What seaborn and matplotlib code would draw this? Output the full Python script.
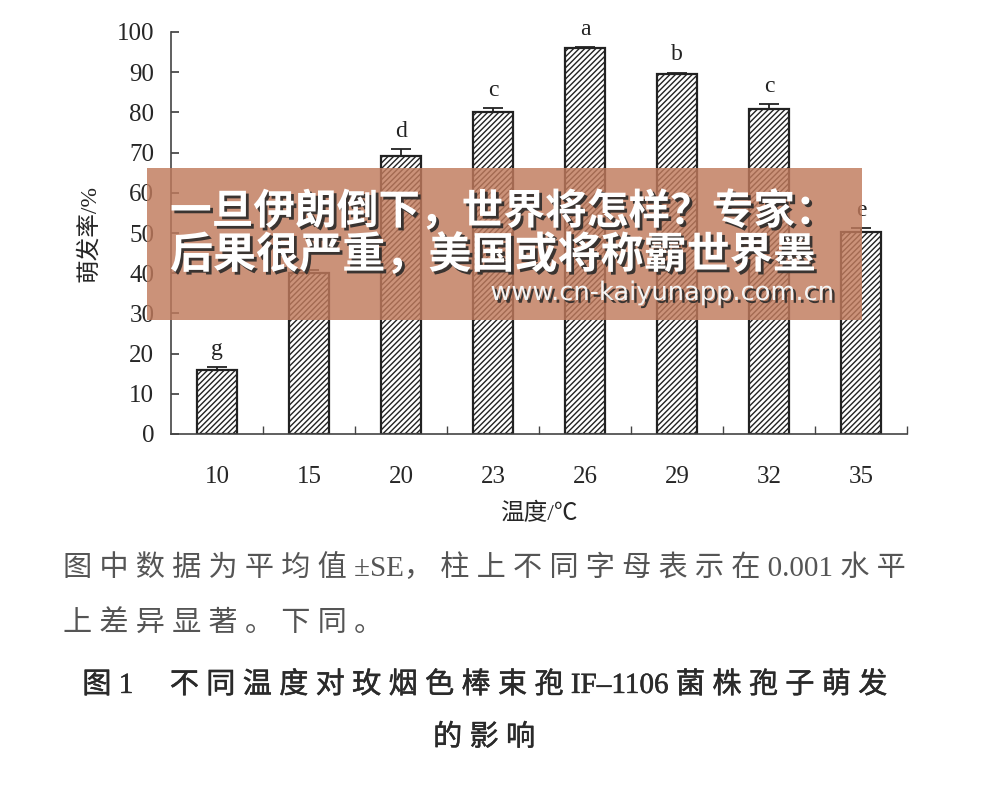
import numpy as np
import pandas as pd
import matplotlib
matplotlib.use("Agg")
import matplotlib.pyplot as plt
import matplotlib.patheffects as pe
from matplotlib.patches import Rectangle
import seaborn as sns

# dane
temps = ['10', '15', '20', '23', '26', '29', '32', '35']
rates = [16.0, 40.0, 69.2, 80.1, 96.0, 89.5, 80.8, 50.3]
se = [0.7, 0.8, 1.7, 1.0, 0.3, 0.4, 1.2, 1.0]
letters = ['g', '', 'd', 'c', 'a', 'b', 'c', 'e']  # litera dla 15 zakryta banerem

df = pd.DataFrame({'temp': temps, 'rate': rates})

sns.set_theme(style='ticks')
plt.rcParams['font.family'] = ['Liberation Serif', 'Noto Sans CJK SC', 'DejaVu Sans']
plt.rcParams['hatch.linewidth'] = 1.0
plt.rcParams['hatch.color'] = '#333333'

fig = plt.figure(figsize=(10.07, 8), dpi=100)
ax = fig.add_axes([0.1698, 0.4575, 0.7309, 0.5025])

sns.barplot(data=df, x='temp', y='rate', color='white', edgecolor='#222222',
            linewidth=1.6, width=0.44, ax=ax, errorbar=None, zorder=2)
for p in ax.patches:
    p.set_hatch('//////')
    p.set_facecolor('white')

xpos = np.arange(len(temps))
ax.errorbar(xpos, rates, yerr=[np.zeros(len(se)), se], fmt='none',
            ecolor='#222222', elinewidth=1.3, capsize=7, capthick=1.3, zorder=3)
for x, r, s, l in zip(xpos, rates, se, letters):
    if l:
        ax.text(x, r + s + 1.8, l, ha='center', va='bottom', fontsize=17, color='#222222')

ax.set_ylim(0, 100)
ax.set_xlim(-0.5, 7.5)
ax.set_yticks(range(0, 101, 10))
ax.set_xticks(xpos)
ax.set_xticks(np.arange(0.5, 8, 1), minor=True)
ax.tick_params(axis='x', which='major', length=0, pad=23, labelsize=18)
ax.tick_params(axis='x', which='minor', length=6, direction='in', color='#444444')
ax.tick_params(axis='y', length=6, direction='in', labelsize=18, pad=12, color='#444444')
sns.despine(ax=ax)
for s in ['left', 'bottom']:
    ax.spines[s].set_color('#444444')
    ax.spines[s].set_linewidth(1.2)
ax.set_xlabel('温度/℃', fontsize=17, labelpad=11)
ax.set_ylabel('萌发率/%', fontsize=17, labelpad=12)

# podpis pod wykresem
fig.text(63 / 1007, 1 - 568 / 800, '图 中 数 据 为 平 均 值 ±SE， 柱 上 不 同 字 母 表 示 在 0.001 水 平',
         fontsize=21, color='#555555', va='center', ha='left')
fig.text(63 / 1007, 1 - 624 / 800, '上 差 异 显 著 。 下 同 。',
         fontsize=21, color='#555555', va='center', ha='left')
medium = [pe.withStroke(linewidth=0.35, foreground='#2a2a2a')]
fig.text(484 / 1007, 1 - 685 / 800,
         '图 1     不 同 温 度 对 玫 烟 色 棒 束 孢 IF–1106 菌 株 孢 子 萌 发',
         fontsize=21, color='#2a2a2a', va='center', ha='center', path_effects=medium)
fig.text(484 / 1007, 1 - 738 / 800, '的 影 响',
         fontsize=21, color='#2a2a2a', va='center', ha='center', path_effects=medium)

# nakladka (baner)
fig.patches.append(Rectangle((147 / 1007, 1 - 320 / 800), 715 / 1007, 152 / 800,
                             transform=fig.transFigure, facecolor='#c07a5c',
                             alpha=0.82, edgecolor='none', zorder=10))
shadow = [pe.SimplePatchShadow(offset=(2, -2), shadow_rgbFace='#2a2a2a', alpha=0.9), pe.Normal()]
fig.text(170 / 1007, 1 - 212 / 800, '一旦伊朗倒下，世界将怎样？专家：',
         fontsize=30, color='white', fontweight='bold', va='center', ha='left',
         family=['Noto Sans CJK SC'], path_effects=shadow, zorder=11)
fig.text(170 / 1007, 1 - 255 / 800, '后果很严重，美国或将称霸世界墨',
         fontsize=31, color='white', fontweight='bold', va='center', ha='left',
         family=['Noto Sans CJK SC'], path_effects=shadow, zorder=11)
fig.text(835 / 1007, 1 - 293 / 800, 'www.cn-kaiyunapp.com.cn',
         fontsize=18.5, color='#f4f4f4', va='center', ha='right',
         family=['DejaVu Sans'], path_effects=shadow, zorder=11)

fig.savefig('out.png', dpi=100)
